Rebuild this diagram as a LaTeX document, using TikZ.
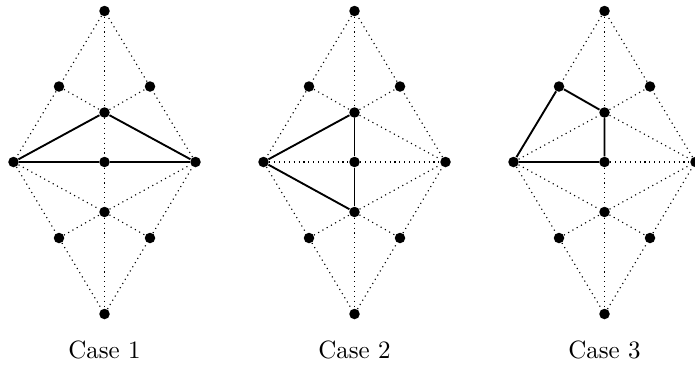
\documentclass[tikz,border=0pt]{standalone}
\begin{document}
\begin{tikzpicture}[x=0.4pt,y=-0.4pt,
  vtx/.style={circle,fill=black,inner sep=0pt,minimum size=4.2pt},
  dotline/.style={line width=0.45pt,dash pattern=on 0.45pt off 1.5pt},
  solidline/.style={line width=0.75pt},
  caselabel/.style={font=\normalsize}]
\useasboundingbox (0,0) rectangle (695,367);
\foreach \i/\ox in {1/104.5,2/354.5,3/604.5}{
  \node[vtx] (t\i)  at (\ox,11) {};
  \node[vtx] (ul\i) at (\ox-45.5,86.5) {};
  \node[vtx] (ur\i) at (\ox+45.5,86.5) {};
  \node[vtx] (uc\i) at (\ox,112.5) {};
  \node[vtx] (l\i)  at (\ox-91,162) {};
  \node[vtx] (c\i)  at (\ox,162) {};
  \node[vtx] (r\i)  at (\ox+91,162) {};
  \node[vtx] (lc\i) at (\ox,212) {};
  \node[vtx] (ll\i) at (\ox-45.5,238) {};
  \node[vtx] (lr\i) at (\ox+45.5,238) {};
  \node[vtx] (b\i)  at (\ox,314) {};
  \node[caselabel] (lab\i) at (\ox,350) {Case \i};
  \draw[dotline] (t\i) -- (ul\i) -- (l\i) -- (ll\i) -- (b\i) -- (lr\i) -- (r\i) -- (ur\i) -- (t\i);
  \draw[dotline] (t\i) -- (uc\i) -- (c\i) -- (lc\i) -- (b\i);
  \draw[dotline] (l\i) -- (c\i) -- (r\i);
  \draw[dotline] (ul\i) -- (uc\i) -- (ur\i);
  \draw[dotline] (l\i) -- (uc\i) -- (r\i);
  \draw[dotline] (l\i) -- (lc\i) -- (r\i);
  \draw[dotline] (ll\i) -- (lc\i) -- (lr\i);
}
\draw[solidline] (l1) -- (uc1) -- (r1);
\draw[solidline] (l1) -- (c1) -- (r1);
\draw[solidline] (uc2) -- (l2) -- (lc2);
\draw[solidline] (uc2) -- (c2) -- (lc2);
\draw[solidline] (l3) -- (ul3) -- (uc3) -- (c3) -- (l3);
\end{tikzpicture}
\end{document}
